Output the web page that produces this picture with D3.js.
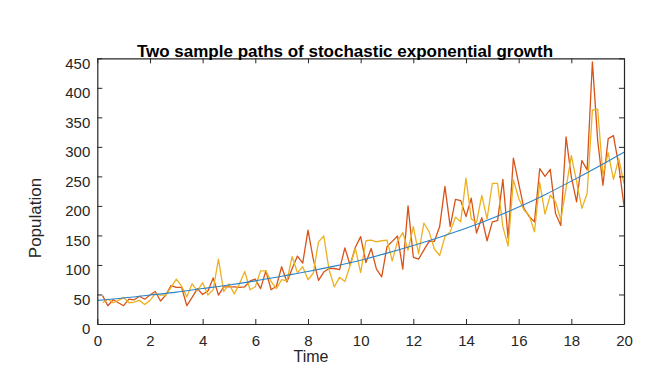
<!DOCTYPE html>
<html>
<head>
<meta charset="utf-8">
<script src="https://cdn.jsdelivr.net/npm/d3@7"></script>
<style>
  html, body { margin: 0; padding: 0; background: #fff; }
  svg { display: block; }
  text { font-family: "Liberation Sans", Arial, sans-serif; fill: #262626; }
</style>
</head>
<body>
<svg id="chart" width="658" height="377"></svg>
<script>
// sample step of the two stochastic paths (first sample at t = 0.2)
const dt = 0.2;

// path 1 (red), t = 0.2 ... 20
const pathA = [
  48, 31, 41, 36, 31, 42, 41, 47, 42, 49,
  55, 39, 49, 65, 62, 62, 31, 45, 60, 50,
  56, 78, 49, 63, 63, 63, 62, 63, 73, 76,
  60, 90, 58, 64, 97, 71, 94, 115, 103, 159,
  110, 74, 88, 94, 94, 92, 129, 100, 130, 148,
  104, 128, 93, 80, 131, 140, 149, 93, 200, 113,
  110, 125, 140, 140, 165, 233, 165, 211, 209, 182,
  213, 154, 180, 141, 173, 175, 245, 145, 281, 238,
  196, 182, 173, 263, 250, 262, 187, 167, 317, 249,
  207, 277, 261, 444, 311, 235, 314, 319, 269, 200
];

// path 2 (yellow), t = 0.2 ... 20
const pathB = [
  36, 42, 36, 40, 45, 36, 37, 40, 33, 40,
  51, 49, 49, 62, 76, 64, 46, 68, 56, 70,
  49, 58, 110, 55, 68, 51, 68, 89, 58, 63,
  90, 90, 72, 60, 75, 73, 114, 87, 97, 75,
  86, 139, 149, 92, 63, 79, 72, 99, 128, 87,
  141, 142, 139, 141, 142, 107, 140, 155, 125, 165,
  119, 171, 156, 127, 116, 148, 156, 181, 173, 247,
  178, 172, 218, 178, 238, 238, 165, 132, 244, 213,
  193, 184, 156, 240, 186, 218, 207, 176, 230, 285,
  241, 196, 221, 362, 364, 252, 290, 245, 280, 238
];

// deterministic mean curve (blue), read at t = 0, 1, ..., 20
const meanTimes = d3.range(0, 21);
const meanValues = [40, 44, 49, 54, 60, 66, 73, 81, 89, 98, 108,
                    120, 133, 147, 162, 179, 198, 219, 242, 266, 291];

const xTicks = [0, 2, 4, 6, 8, 10, 12, 14, 16, 18, 20];
const yTicks = [0, 50, 100, 150, 200, 250, 300, 350, 400, 450];

const svg = d3.select("#chart");
const plot = { left: 97.3, right: 624, top: 58.3, bottom: 324 };

const x = d3.scaleLinear().domain([0, 20]).range([plot.left, plot.right]);
const y = d3.scaleLinear().domain([0, 450]).range([plot.bottom, plot.top]);

const tickLen = 5;
const axisColor = "#262626";

// lines
const pathLine = d3.line()
  .x((d, i) => x((i + 1) * dt))
  .y(d => y(d));

svg.append("path")
  .datum(pathA)
  .attr("fill", "none")
  .attr("stroke", "#D95319")
  .attr("stroke-width", 1.3)
  .attr("stroke-linejoin", "round")
  .attr("d", pathLine);

svg.append("path")
  .datum(pathB)
  .attr("fill", "none")
  .attr("stroke", "#EDB120")
  .attr("stroke-width", 1.3)
  .attr("stroke-linejoin", "round")
  .attr("d", pathLine);

svg.append("path")
  .datum(meanValues)
  .attr("fill", "none")
  .attr("stroke", "#2a84c8")
  .attr("stroke-width", 1.1)
  .attr("d", d3.line()
    .curve(d3.curveMonotoneX)
    .x((d, i) => x(meanTimes[i]))
    .y(d => y(d)));

// axes: bottom / left with labels, top / right as box, ticks inward
const axBottom = svg.append("g")
  .attr("transform", `translate(0,${plot.bottom})`)
  .call(d3.axisBottom(x).tickValues(xTicks).tickSizeInner(-tickLen).tickSizeOuter(0).tickPadding(11));
const axLeft = svg.append("g")
  .attr("transform", `translate(${plot.left},0)`)
  .call(d3.axisLeft(y).tickValues(yTicks).tickSizeInner(-tickLen).tickSizeOuter(0).tickPadding(7));
const axTop = svg.append("g")
  .attr("transform", `translate(0,${plot.top})`)
  .call(d3.axisTop(x).tickValues(xTicks).tickSizeInner(-tickLen).tickSizeOuter(0).tickFormat(""));
const axRight = svg.append("g")
  .attr("transform", `translate(${plot.right},0)`)
  .call(d3.axisRight(y).tickValues(yTicks).tickSizeInner(-tickLen).tickSizeOuter(0).tickFormat(""));

[axBottom, axLeft, axTop, axRight].forEach(g => {
  g.select(".domain").attr("stroke", axisColor).attr("stroke-width", 1.2);
  g.selectAll(".tick line").attr("stroke", axisColor).attr("stroke-width", 1);
  g.selectAll(".tick text")
    .attr("font-family", "Liberation Sans, Arial, sans-serif")
    .attr("font-size", 15)
    .attr("fill", axisColor);
});
// labels on the y axis sit a little below their ticks in the reference
axLeft.selectAll(".tick text").attr("dy", "0.66em");

// title and axis labels
svg.append("text")
  .attr("x", 345)
  .attr("y", 57)
  .attr("text-anchor", "middle")
  .attr("font-size", 17)
  .attr("font-weight", "bold")
  .style("fill", "#000")
  .text("Two sample paths of stochastic exponential growth");

svg.append("text")
  .attr("x", 311)
  .attr("y", 362)
  .attr("text-anchor", "middle")
  .attr("font-size", 16)
  .text("Time");

svg.append("text")
  .attr("transform", "translate(41,218) rotate(-90)")
  .attr("text-anchor", "middle")
  .attr("font-size", 17)
  .text("Population");
</script>
</body>
</html>
